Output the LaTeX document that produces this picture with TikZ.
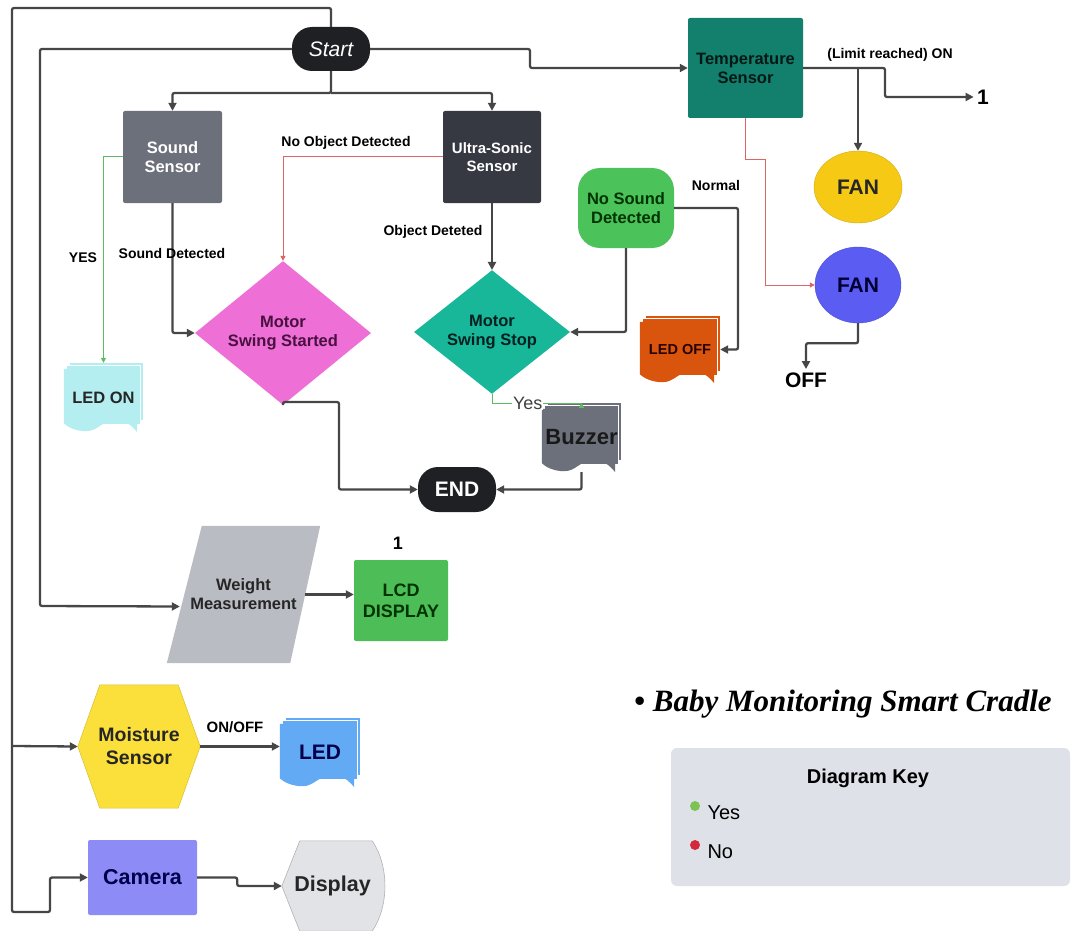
\documentclass[tikz,border=0pt]{standalone}
\usepackage{fontspec}
\setmainfont{Liberation Sans}
\newfontfamily\titlefont{Liberation Serif}
\usetikzlibrary{shapes.geometric,arrows.meta,calc,backgrounds}

\definecolor{linegray}{HTML}{464646}
\definecolor{yesgreen}{HTML}{5DBB63}
\definecolor{nored}{HTML}{E06464}
\definecolor{startdark}{HTML}{1F2024}
\definecolor{soundgray}{HTML}{6C707B}
\definecolor{ultradark}{HTML}{363942}
\definecolor{tempteal}{HTML}{13806E}
\definecolor{fanyellow}{HTML}{F6C915}
\definecolor{fanblue}{HTML}{5A5CF2}
\definecolor{nosoundgreen}{HTML}{4CC35A}
\definecolor{ledoffred}{HTML}{D9540D}
\definecolor{stopteal}{HTML}{19B79A}
\definecolor{startpink}{HTML}{EE6FD6}
\definecolor{pinktext}{HTML}{4A1040}
\definecolor{ledoncyan}{HTML}{B4EEF0}
\definecolor{weightgray}{HTML}{B9BCC3}
\definecolor{lcdgreen}{HTML}{4CBD57}
\definecolor{moistyellow}{HTML}{FBE03C}
\definecolor{ledblue}{HTML}{62AAF3}
\definecolor{camblue}{HTML}{8D8CF6}
\definecolor{dispgray}{HTML}{E2E3E6}
\definecolor{keygray}{HTML}{DFE1E8}
\definecolor{keygreen}{HTML}{7CC353}
\definecolor{keyred}{HTML}{D4283C}

\newcommand{\boxfont}{\fontsize{16.5}{19}\selectfont\bfseries}
\newcommand{\lblfont}{\fontsize{14}{16}\selectfont\bfseries}
\newcommand{\bigfont}{\fontsize{21}{24}\selectfont\bfseries}

% stacked document pages behind a named node
\newcommand{\docstack}[2]{%
  \begin{pgfonlayer}{background}
    \filldraw[fill=#2, draw=white, line width=0.7pt]
      ([xshift=6pt]#1.north west) -- (#1.north east) -- ([yshift=12pt]#1.south east)
      -- ([xshift=6pt,yshift=12pt]#1.south west) -- cycle;
    \filldraw[fill=#2, draw=white, line width=0.7pt]
      ([shift={(3pt,-3pt)}]#1.north west) -- ([shift={(-3pt,-3pt)}]#1.north east)
      -- ([shift={(-3pt,8pt)}]#1.south east) -- ([shift={(3pt,8pt)}]#1.south west) -- cycle;
    \fill[#2] ([yshift=-6pt]#1.north west) -- ([shift={(-6pt,-6pt)}]#1.north east)
      -- ([xshift=-6pt]#1.south east)
      .. controls +(-10pt,12pt) and +(10pt,0pt) .. ($(#1.south west)!0.62!(#1.south east)+(0pt,11pt)$)
      .. controls +(-12pt,0pt) and +(12pt,0pt) .. ($(#1.south west)!0.28!(#1.south east)+(0pt,1pt)$)
      .. controls +(-10pt,0pt) and +(4pt,-4pt) .. ([yshift=9pt]#1.south west) -- cycle;
  \end{pgfonlayer}}

\tikzset{
  flow/.style={draw=linegray, line width=2.3pt, rounded corners=2pt, -{Triangle[length=8pt,width=8pt]}},
  yesflow/.style={draw=yesgreen, line width=1pt, -{Triangle[length=5pt,width=5pt]}},
  noflow/.style={draw=nored, line width=1pt, -{Triangle[length=5pt,width=5pt]}},
  box/.style={rectangle, rounded corners=2pt, align=center, font=\boxfont, inner sep=2pt},
  pill/.style={rectangle, rounded corners=20pt, fill=startdark, text=white, minimum width=78pt, minimum height=44pt},
  choice/.style={diamond, align=center, font=\boxfont, inner sep=0pt},
  fan/.style={ellipse, font=\bigfont, inner sep=0pt},
  plain/.style={rectangle, align=center, inner sep=0pt},
  lbl/.style={font=\lblfont, inner sep=1pt}
}

\begin{document}
\begin{tikzpicture}[x=1pt, y=-1pt]
    \useasboundingbox (0,0) rectangle (1074,931);

    % Top row
    \node[pill, font=\fontsize{21}{24}\selectfont\itshape] (start) at (331,49) {Start};
    \node[box, fill=soundgray, text=white, minimum width=99pt, minimum height=92pt] (sound) at (172.5,157) {Sound\\Sensor};
    \node[box, fill=ultradark, text=white, font=\fontsize{15}{18}\selectfont\bfseries, minimum width=98pt, minimum height=92pt] (ultra) at (492,157) {Ultra-Sonic\\Sensor};
    \node[box, fill=tempteal, text=black!80!tempteal, minimum width=115pt, minimum height=100pt] (temp) at (745.5,68) {Temperature\\Sensor};

    % Fans and limit
    \node[fan, fill=fanyellow, draw=fanyellow!85!black, minimum width=88pt, minimum height=72pt, text=black!85] (fany) at (858,187) {FAN};
    \node[fan, fill=fanblue, draw=fanblue!85!black, minimum width=86pt, minimum height=76pt, text=black!80!blue] (fanb) at (858,285) {FAN};
    \node[font=\bigfont] (off) at (806,380) {OFF};
    \node[font=\bigfont] (onetop) at (983,97) {1};

    % Middle row
    \node[box, rounded corners=22pt, fill=nosoundgreen, text=black!80!green, minimum width=96pt, minimum height=80pt] (nosound) at (626,208) {No Sound\\Detected};
    \node[choice, fill=startpink, text=pinktext, minimum width=176pt, minimum height=112pt] (swinga) at (283,333) {Motor\\Swing Started};
    \node[choice, fill=stopteal, text=black!75!teal, minimum width=156pt, minimum height=112pt] (swingb) at (492,332) {Motor\\Swing Stop};

    % Documents
    \node[plain, font=\fontsize{16.5}{19}\selectfont\bfseries, text=black!85, minimum width=79pt, minimum height=69pt] (ledon) at (103.5,397.5) {LED ON};
    \docstack{ledon}{ledoncyan}
    \node[plain, font=\fontsize{14.5}{17}\selectfont\bfseries, text=black!85!red, minimum width=80pt, minimum height=67pt] (ledoff) at (680,349.5) {LED OFF};
    \docstack{ledoff}{ledoffred}
    \node[plain, font=\fontsize{22}{25}\selectfont\bfseries, text=black!90, minimum width=79pt, minimum height=69pt] (buzz) at (581.5,437.5) {Buzzer};
    \docstack{buzz}{soundgray}
    \node[pill, font=\bigfont, minimum height=45pt] (endn) at (457,489.5) {END};

    % Weight and LCD
    \node[plain, font=\boxfont, text=black!85, minimum width=153pt, minimum height=137pt] (wm) at (243.5,594.5) {Weight\\Measurement};
    \begin{pgfonlayer}{background}
        \fill[weightgray] ([xshift=35pt]wm.north west) -- (wm.north east) -- ([xshift=-30pt]wm.south east) -- (wm.south west) -- cycle;
    \end{pgfonlayer}
    \node[box, fill=lcdgreen, text=black!80!green, font=\fontsize{18}{21}\selectfont\bfseries, minimum width=94pt, minimum height=81pt] (lcd) at (401,600.5) {LCD\\DISPLAY};
    \node[font=\fontsize{18}{20}\selectfont\bfseries] (onelcd) at (398,543) {1};

    % Moisture and LED
    \node[plain, font=\fontsize{19.5}{23}\selectfont\bfseries, text=black!85, minimum width=122pt, minimum height=123pt] (moist) at (139,746.5) {Moisture\\Sensor};
    \begin{pgfonlayer}{background}
        \filldraw[fill=moistyellow, draw=moistyellow!85!black, line width=0.5pt] (moist.west) -- ([xshift=22pt]moist.north west) -- ([xshift=-22pt]moist.north east)
            -- (moist.east) -- ([xshift=-22pt]moist.south east) -- ([xshift=22pt]moist.south west) -- cycle;
    \end{pgfonlayer}
    \node[plain, font=\bigfont, text=black!70!blue, minimum width=80pt, minimum height=69pt] (led) at (320,752.5) {LED};
    \docstack{led}{ledblue}

    % Camera and display
    \node[box, fill=camblue, text=black!70!blue, font=\fontsize{21.5}{24}\selectfont\bfseries, minimum width=109pt, minimum height=75pt] (cam) at (142.5,877.5) {Camera};
    \node[plain, font=\fontsize{21.5}{24}\selectfont\bfseries, text=black!85, minimum width=101pt, minimum height=90pt] (disp) at (332.5,886) {Display};
    \begin{pgfonlayer}{background}
        \filldraw[fill=dispgray, draw=black!30, line width=0.6pt] (disp.west) -- ([xshift=18pt]disp.north west) -- ([xshift=-11pt]disp.north east)
            .. controls ([shift={(6pt,-25pt)}]disp.north east) and ([shift={(6pt,25pt)}]disp.south east) .. ([xshift=-11pt]disp.south east)
            -- ([xshift=18pt]disp.south west) -- cycle;
    \end{pgfonlayer}

    % Draw connectors from Start
    \draw[flow] (start.north) |- (12,8) |- (50,912) |- (cam.west);
    \draw[flow] (12,746) -- (moist.west);
    \draw[flow] (start.west) -| (40,606) -- ([shift={(13pt,-12pt)}]wm.west);
    \draw[flow] (start.east) -- (530,49) |- (temp.west);
    \coordinate (split) at (331,93);
    \draw[flow] (start.south) -- (split) -| (sound.north);
    \draw[flow] (split) -| (ultra.north);

    % Temperature branches
    \draw[flow] (temp.east) -- (885,68) |- (onetop.west);
    \draw[flow] (858,68) -- (fany.north);
    \node[lbl] (limit) at (890,55) {(Limit reached) ON};
    \draw[noflow] (temp.south) |- (765,160) |- (fanb.west);
    \draw[flow] (fanb.south) -- ++(0,20) -| (off.north);
    \node[lbl] (normal) at (716,185) {Normal};

    % Sensors to actions
    \draw[yesflow] (sound.west) -| (ledon.north);
    \node[lbl] (yeslbl) at (83,258) {YES};
    \draw[flow] (sound.south) |- (swinga.west);
    \node[lbl] (sdlbl) at (172,253) {Sound Detected};
    \draw[noflow] (ultra.west) -| (swinga.north);
    \node[lbl] (nolbl) at (346,143) {No Object Detected};
    \draw[flow] (ultra.south) -- (swingb.north);
    \node[lbl] (odlbl) at (433,232) {Object Deteted};
    \draw[flow] (nosound.east) -- (738,208) |- (ledoff.east);
    \draw[flow] (nosound.south) |- (swingb.east);

    % Towards END
    \draw[flow] (swinga.south) |- (339,402) |- (endn.west);
    \draw[yesflow] (swingb.south) -- ++(0,9) -| node[pos=0.2, fill=white, inner sep=1pt, text=black!75, font=\fontsize{18}{20}\selectfont] {Yes} (buzz.north);
    \draw[flow] (buzz.south) |- (endn.east);

    % Lower rows
    \coordinate (wmout) at ([xshift=-15pt]wm.east);
    \draw[flow] (wmout) -- (wmout -| lcd.west);
    \draw[flow] (moist.east) -- (moist.east -| led.west);
    \node[lbl, font=\fontsize{15}{17}\selectfont\bfseries] (onoff) at (235,727) {ON/OFF};
    \draw[flow] (cam.east) -- ++(40,0) |- (disp.west);

    % Title and key
    \node[font={\titlefont\fontsize{31}{34}\selectfont\bfseries}] (title) at (843,704) {\textbullet\ \textit{Baby Monitoring Smart Cradle}};
    \node[rectangle, rounded corners=6pt, fill=keygray, minimum width=399pt, minimum height=138pt] (key) at (870.5,817) {};
    \node[font=\fontsize{20}{23}\selectfont\bfseries] (keytitle) at (868,778) {Diagram Key};
    \node[circle, fill=keygreen, minimum size=10pt, inner sep=0pt] (dotyes) at (695,806) {};
    \node[circle, fill=keyred, minimum size=10pt, inner sep=0pt] (dotno) at (695,845) {};
    \node[anchor=west, font=\fontsize{20}{23}\selectfont] (keyyes) at (704,813) {Yes};
    \node[anchor=west, font=\fontsize{20}{23}\selectfont] (keyno) at (704,852) {No};
\end{tikzpicture}
\end{document}
